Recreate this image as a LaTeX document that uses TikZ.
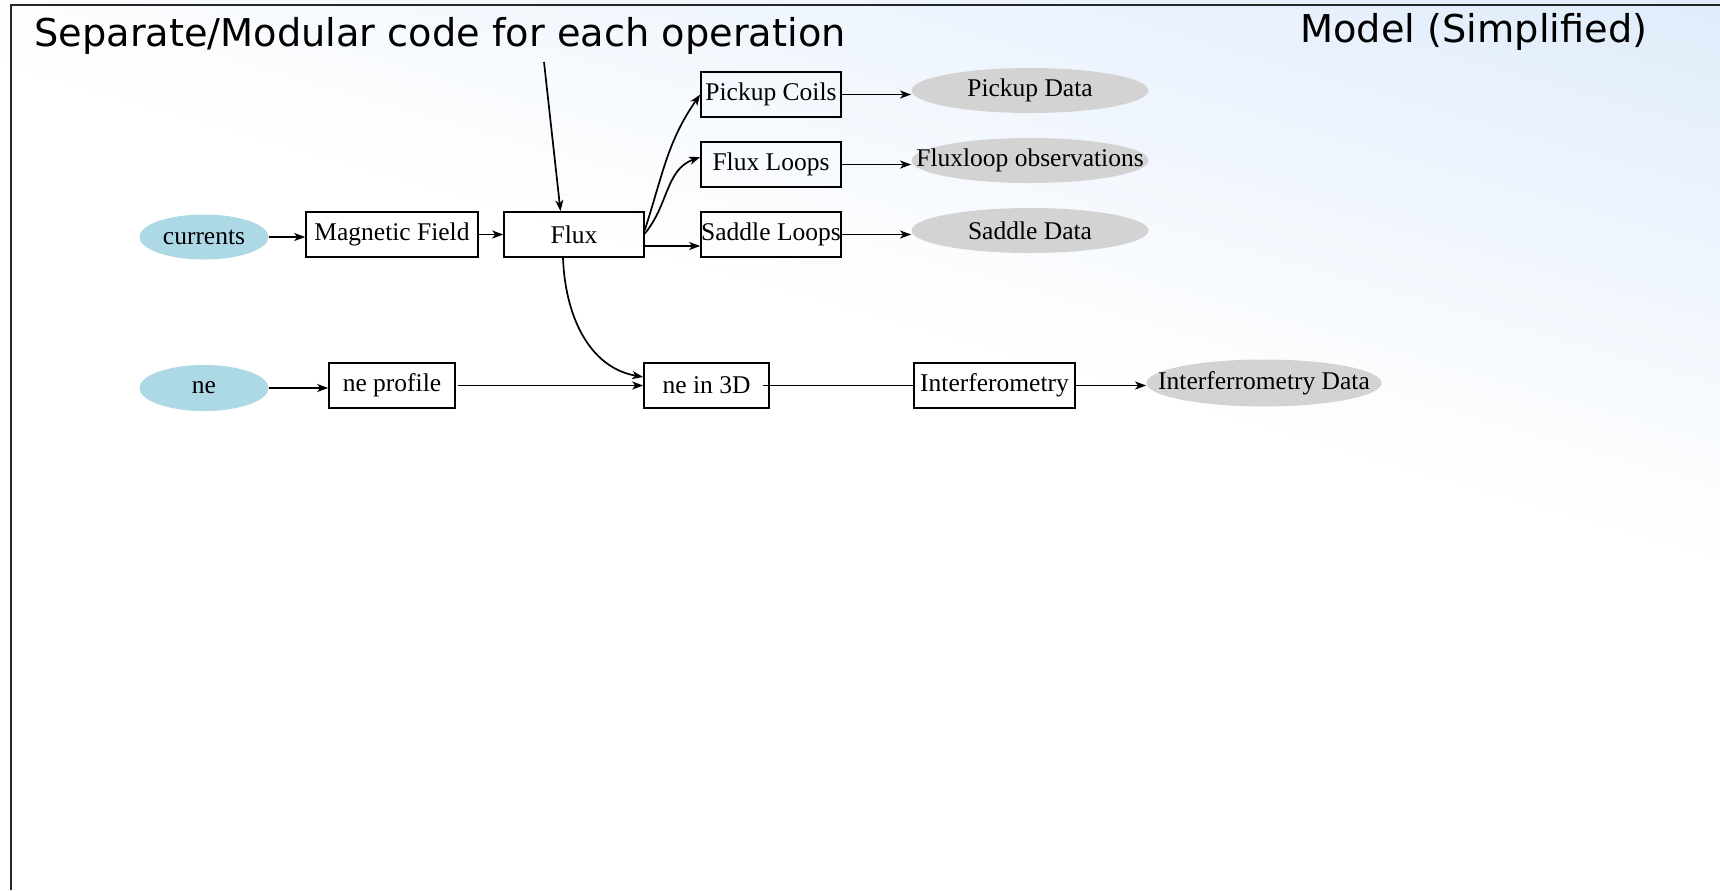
\documentclass[tikz,border=0pt]{standalone}
\usepackage{fontspec}
\setmainfont{Liberation Serif}
\newfontfamily\titlefont{DejaVu Sans}
\usetikzlibrary{shapes.geometric,arrows.meta}
\definecolor{bgblue}{HTML}{E0ECFB}
\definecolor{inblue}{HTML}{ADD8E6}
\definecolor{outgray}{HTML}{D3D3D3}
\newcommand{\zerobox}[1]{\makebox[0pt][c]{#1}}
\tikzset{
  nodefont/.style={font=\fontsize{12.75}{15}\selectfont},
  box/.style={draw, line width=0.8pt, minimum height=22.5pt, inner sep=0pt, nodefont},
  inell/.style={ellipse, fill=inblue, minimum width=64.5pt, minimum height=22.5pt, inner sep=0pt, nodefont},
  outell/.style={ellipse, fill=outgray, minimum width=118.5pt, minimum height=22.5pt, inner sep=0pt, nodefont},
  conn/.style={line width=0.85pt, -{Stealth[length=5.5pt,width=4pt,inset=1.5pt]}},
  plainline/.style={line width=0.85pt},
  titletext/.style={font=\titlefont\fontsize{19.15}{22}\selectfont, inner sep=0pt, anchor=base west}
}
\begin{document}
\begin{tikzpicture}[x=0.5pt,y=-0.5pt]
\useasboundingbox (0,0) rectangle (1720,890);
% background gradient
\begin{scope}
  \clip (0,0) rectangle (1720,890);
  \fill[white] (0,0) rectangle (1720,890);
  \foreach \i in {0,...,39}{
    \pgfmathsetmacro{\c}{-60+13.5*\i}
    \pgfmathsetmacro{\lvl}{2.5*(\i+1)}
    \fill[bgblue!\lvl!white] (-100,{(0.276*(-100)-\c)/0.961}) -- (1820,{(0.276*1820-\c)/0.961}) -- (1820,-2000) -- (-100,-2000) -- cycle;
  }
\end{scope}
% frame
\draw[line width=1pt, black!85] (10.5,890) -- (10.5,5) -- (1720,5);
% titles
\node[titletext] (t1) at (34,46) {Separate/Modular code for each operation};
\node[titletext] (t2) at (1300,42) {Model (Simplified)};
% nodes
\node[inell] (cur) at (204,237) {currents};
\node[box, minimum width=86pt] (mag) at (392,234.5) {Magnetic Field};
\node[box, minimum width=70pt] (flux) at (574,234.5) {Flux};
\node[box, minimum width=70pt] (pick) at (771,94.5) {Pickup Coils};
\node[box, minimum width=70pt] (floop) at (771,164.5) {Flux Loops};
\node[box, minimum width=70pt] (sadd) at (771,234.5) {Saddle Loops};
\node[outell] (pdata) at (1030,90.5) {\zerobox{Pickup Data}};
\node[outell] (fdata) at (1030,160.5) {\zerobox{Fluxloop observations}};
\node[outell] (sdata) at (1030,230.5) {\zerobox{Saddle Data}};
\node[inell, minimum height=23pt] (ne) at (204,388) {ne};
\node[box, minimum width=63pt] (nprof) at (392,385.5) {ne profile};
\node[box, minimum width=62.5pt] (n3d) at (706.5,385.5) {ne in 3D};
\node[box, minimum width=80.5pt] (interf) at (994.5,385.5) {Interferometry};
\node[outell, minimum width=117.5pt, minimum height=23.5pt] (idata) at (1264,383) {\zerobox{Interferrometry Data}};
\coordinate (topstart) at (544,62);
% connectors
\draw[conn] (cur.east) -- (cur.east -| mag.west);
\draw[conn] (mag.east) -- (flux.west);
\draw[conn] (topstart) -- ([xshift=-6.75pt]flux.north);
\draw[conn] ([yshift=2.25pt]flux.east) to[out=72, in=235] (pick.west);
\draw[conn] ([yshift=0.5pt]flux.east) to[out=50, in=200] ([yshift=3.75pt]floop.west);
\draw[conn] ([yshift=-5.75pt]flux.east) -- ([yshift=-5.75pt]sadd.west);
\draw[conn] (pick.east) -- (pick.east -| pdata.west);
\draw[conn] (floop.east) -- (floop.east -| fdata.west);
\draw[conn] (sadd.east) -- (sadd.east -| sdata.west);
\draw[conn] ([xshift=-5.5pt]flux.south) to[out=-88, in=170] ([yshift=4.25pt]n3d.west);
\draw[conn] (ne.east) -- (ne.east -| nprof.west);
\draw[conn] ([xshift=1pt]nprof.east) -- (n3d.west);
\draw[plainline] ([xshift=-3.5pt]n3d.east) -- (interf.west);
\draw[conn] (interf.east) -- (interf.east -| idata.west);
\end{tikzpicture}
\end{document}
